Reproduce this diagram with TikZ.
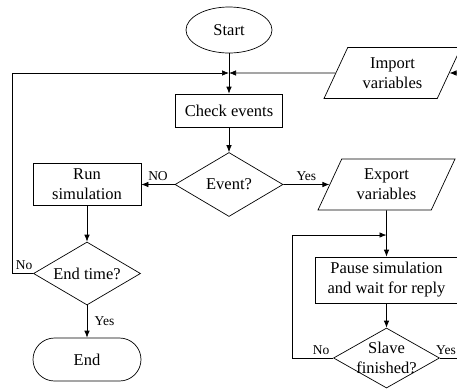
\documentclass[tikz,border=0pt]{standalone}
\usepackage{fontspec}
\setmainfont{Liberation Serif}
\usetikzlibrary{shapes.geometric,shapes.misc,arrows.meta}

\begin{document}
\begin{tikzpicture}[x=1pt,y=-1pt,line width=0.7pt,
    every node/.style={font=\fontsize{16.5}{20}\selectfont},
    box/.style={draw, rectangle, inner sep=0pt, align=center},
    io/.style={draw, trapezium, trapezium left angle=63, trapezium right angle=117,
      trapezium stretches=true, minimum height=51pt, minimum width=138pt,
      inner sep=0pt, align=center},
    test/.style={draw, diamond, aspect=1.7, inner sep=0pt, align=center},
    lbl/.style={font=\fontsize{13.5}{15}\selectfont},
    arr/.style={-{Latex[length=7pt,width=5.5pt]}}]
    \useasboundingbox (0,0) rectangle (457,389);
    \clip (0,0) rectangle (457,389);

    \node[draw, ellipse, minimum width=86pt, minimum height=46pt, inner sep=0pt] (start) at (229,30) {Start};
    \node[box, minimum width=107pt, minimum height=33pt] (check) at (229,110.5) {Check events};
    \node[test, minimum width=108pt, minimum height=64pt] (event) at (229,184.5) {Event?};
    \node[box, minimum width=108pt, minimum height=42pt] (run) at (87,184.5) {Run\\simulation};
    \node[test, minimum width=107pt, minimum height=63pt] (endtime) at (87,273.5) {End time?};
    \node[draw, rounded rectangle, minimum width=108pt, minimum height=43pt, inner sep=0pt] (end) at (87,359.5) {End};
    \node[io] (import) at (392.5,73) {Import\\variables};
    \node[io] (export) at (386.5,184.5) {Export\\variables};
    \node[box, minimum width=143pt, minimum height=46pt] (pause) at (386.5,280) {Pause simulation\\and wait for reply};
    \node[test, minimum width=106pt, minimum height=60pt,
      label={[align=center]center:Slave\\finished?}] (slave) at (386.5,358) {};

    \coordinate (j1) at (229,73);
    \coordinate (j2) at (386.5,235);
    \coordinate (rin) at (475,73);
    \coordinate (rout) at (475,358);

    \draw[arr] (start) -- (check);
    \draw[arr] (import) -- (j1);
    \draw[arr] (rin) -- (import);
    \draw[arr] (check) -- (event);
    \draw[arr] (event) -- node[lbl, above] {NO} (run);
    \draw[arr] (event) -- node[lbl, above] {Yes} (export);
    \draw[arr] (run) -- (endtime);
    \draw[arr] (endtime) -- node[lbl, right=4pt] {Yes} (end);
    \draw[arr] (endtime.west) -- ++(-21,0) node[lbl, above right] {No} |- (j1);
    \draw[arr] (export) -- (pause);
    \draw[arr] (pause) -- (slave);
    \draw[arr] (slave.west) node[lbl, above left] {No} -- ++(-41,0) |- (j2);
    \draw (slave.east) node[lbl, above right, inner xsep=0pt, xshift=-4pt] {Yes} -- (rout);
\end{tikzpicture}
\end{document}
